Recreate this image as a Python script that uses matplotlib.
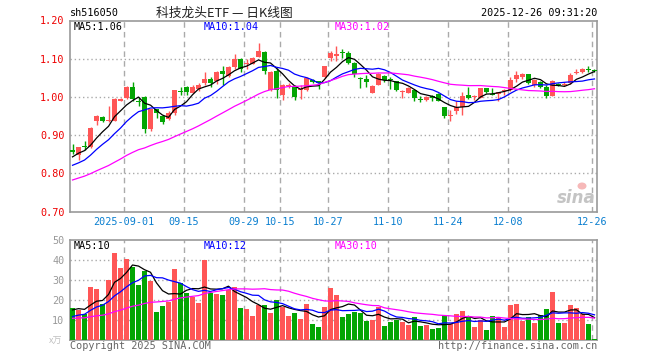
import matplotlib
matplotlib.use('Agg')
import matplotlib.pyplot as plt
from matplotlib.patches import Ellipse
import numpy as np
import pandas as pd

code = 'sh516050'
title = '科技龙头ETF — 日K线图'
stamp = '2025-12-26 09:31:20'

# trading days, national day holiday removed
days = pd.bdate_range('2025-08-19', '2025-12-26')
days = days[(days < '2025-10-01') | (days > '2025-10-08')]

opens = [0.862, 0.847, 0.871, 0.868, 0.937, 0.948, 0.937, 0.937, 0.990, 0.997,
         1.027, 0.990, 1.000, 0.915, 0.968, 0.950, 0.941, 0.957, 1.015, 1.026,
         1.010, 1.020, 1.037, 1.047, 1.041, 1.069, 1.054, 1.079, 1.100, 1.085,
         1.087, 1.105, 1.118, 1.018, 1.069, 1.006, 1.028, 1.028, 1.017, 1.019,
         1.043, 1.041, 1.052, 1.103, 1.107, 1.117, 1.116, 1.089, 1.050, 1.047,
         1.011, 1.032, 1.054, 1.047, 1.041, 1.012, 1.011, 1.019, 0.995, 0.991,
         1.003, 1.008, 0.973, 0.951, 0.962, 0.974, 1.005, 1.000, 0.998, 1.023,
         1.008, 1.007, 1.015, 1.018, 1.047, 1.051, 1.060, 1.032, 1.040, 1.027,
         1.003, 1.034, 1.031, 1.036, 1.062, 1.064, 1.073, 1.070]
highs = [0.876, 0.869, 0.884, 0.920, 0.953, 0.949, 0.976, 0.996, 0.996, 1.029,
         1.040, 1.001, 1.002, 0.969, 0.969, 0.953, 0.963, 1.019, 1.026, 1.028,
         1.030, 1.036, 1.066, 1.052, 1.068, 1.081, 1.080, 1.113, 1.101, 1.098,
         1.105, 1.142, 1.119, 1.067, 1.076, 1.034, 1.036, 1.031, 1.031, 1.052,
         1.047, 1.042, 1.082, 1.121, 1.133, 1.126, 1.120, 1.092, 1.052, 1.057,
         1.030, 1.062, 1.057, 1.052, 1.042, 1.019, 1.026, 1.021, 1.003, 1.002,
         1.006, 1.011, 0.974, 0.967, 0.988, 1.014, 1.027, 1.005, 1.024, 1.024,
         1.023, 1.014, 1.020, 1.053, 1.068, 1.062, 1.061, 1.048, 1.042, 1.032,
         1.043, 1.037, 1.038, 1.062, 1.072, 1.075, 1.080, 1.072]
lows = [0.850, 0.836, 0.861, 0.866, 0.926, 0.933, 0.935, 0.936, 0.988, 0.995,
        0.988, 0.975, 0.906, 0.911, 0.946, 0.930, 0.939, 0.952, 1.005, 1.005,
        1.009, 1.015, 1.032, 1.026, 1.034, 1.032, 1.052, 1.072, 1.066, 1.072,
        1.085, 1.104, 1.059, 1.015, 0.997, 0.993, 1.024, 0.993, 0.995, 1.016,
        1.036, 1.020, 1.050, 1.094, 1.094, 1.101, 1.085, 1.052, 1.024, 1.027,
        1.010, 1.031, 1.040, 1.021, 1.015, 0.996, 1.009, 0.990, 0.986, 0.989,
        0.989, 0.988, 0.946, 0.936, 0.955, 0.953, 0.994, 0.992, 0.997, 1.010,
        1.005, 0.990, 1.005, 1.016, 1.039, 1.046, 1.035, 1.026, 1.022, 0.998,
        1.002, 1.028, 1.028, 1.034, 1.060, 1.062, 1.065, 1.066]
closes = [0.856, 0.868, 0.869, 0.918, 0.950, 0.938, 0.940, 0.995, 0.994, 1.027,
          0.995, 0.987, 0.915, 0.968, 0.957, 0.935, 0.957, 1.018, 1.013, 1.014,
          1.026, 1.032, 1.046, 1.037, 1.066, 1.061, 1.078, 1.100, 1.074, 1.089,
          1.101, 1.120, 1.069, 1.065, 1.019, 1.030, 1.032, 0.999, 1.020, 1.050,
          1.040, 1.037, 1.081, 1.116, 1.113, 1.115, 1.089, 1.059, 1.048, 1.039,
          1.028, 1.059, 1.043, 1.045, 1.017, 1.014, 1.024, 0.996, 0.992, 0.999,
          0.996, 0.990, 0.949, 0.953, 0.974, 1.003, 0.997, 1.002, 1.023, 1.012,
          1.006, 1.012, 1.019, 1.045, 1.058, 1.060, 1.036, 1.045, 1.027, 1.003,
          1.042, 1.032, 1.034, 1.058, 1.065, 1.072, 1.070, 1.067]
volumes = [16.2, 15.2, 13.2, 26.7, 25.7, 18.0, 30.2, 43.7, 36.2, 40.7,
           36.7, 27.5, 34.7, 29.7, 14.2, 17.2, 19.2, 35.7, 28.5, 23.7,
           21.5, 18.7, 40.0, 23.7, 23.2, 22.5, 25.2, 26.7, 16.2, 15.7,
           12.2, 17.7, 17.7, 13.7, 20.2, 16.7, 12.2, 13.7, 10.7, 18.2,
           8.2, 6.7, 16.7, 26.2, 22.5, 11.5, 13.0, 14.2, 13.5, 9.7,
           10.2, 16.7, 7.2, 9.0, 10.2, 9.0, 7.5, 11.5, 7.2, 7.5,
           5.7, 6.2, 12.0, 8.2, 13.0, 14.7, 11.3, 6.7, 10.0, 5.2,
           12.0, 11.2, 6.7, 17.7, 18.2, 9.7, 11.5, 8.7, 12.5, 15.7,
           24.2, 8.7, 8.7, 17.7, 16.2, 13.2, 8.2, 0.7]

# closes / volumes before the window, estimated from where the MA lines start
prev_closes = [0.715, 0.720, 0.722, 0.728, 0.730, 0.733, 0.737, 0.740, 0.745,
               0.760, 0.772, 0.780, 0.776, 0.785, 0.790, 0.795, 0.800, 0.805,
               0.812, 0.820, 0.805, 0.795, 0.790, 0.800, 0.805, 0.820, 0.835,
               0.848, 0.856]
prev_volumes = [9, 11, 10, 12, 9, 10, 11, 13, 10, 9, 11, 10, 12, 9, 10, 11, 10,
                9, 11, 10, 8, 9, 7, 9, 9, 12, 15, 16, 16]

tick_dates = ['2025-09-01', '2025-09-15', '2025-09-29', '2025-10-15', '2025-10-27',
              '2025-11-10', '2025-11-24', '2025-12-08', '2025-12-26']
price_ma_text = ['MA5:1.06', 'MA10:1.04', 'MA30:1.02']
vol_ma_text = ['MA5:10', 'MA10:12', 'MA30:10']

UP = '#ff5656'
DOWN = '#03a503'
MA_COLORS = ['black', '#0000ff', '#ff00ff']
GRID = '#aaaaaa'
MONO = 'DejaVu Sans Mono'
FS = 7.3

W, H = 660, 360
fig = plt.figure(figsize=(W / 100, H / 100), dpi=100)


def box(l, t, r, b):
    return [l / W, 1 - b / H, (r - l) / W, (b - t) / H]


ax = fig.add_axes(box(70, 20.5, 597, 211.5))
axv = fig.add_axes(box(70, 240, 597, 340))

o = np.array(opens); c = np.array(closes)
h = np.array(highs); lo = np.array(lows)
v = np.array(volumes)
x = np.arange(len(c))
up = c >= o
cols = np.where(up, UP, DOWN)

n_prev = len(prev_closes)
all_c = pd.Series(prev_closes + closes)
all_v = pd.Series(prev_volumes + volumes)

# candles
ax.vlines(x, lo, h, colors=cols, lw=1.0, zorder=3)
body = np.maximum(np.abs(c - o), 0.0025)
ax.bar(x, body, bottom=np.minimum(o, c), width=0.78, color=cols, lw=0, zorder=3)

for k, col in zip([5, 10, 30], MA_COLORS):
    ax.plot(x, all_c.rolling(k).mean().values[n_prev:], color=col, lw=0.9, zorder=4)
    axv.plot(x, all_v.rolling(k).mean().values[n_prev:], color=col, lw=0.9, zorder=4)

axv.bar(x, v, width=0.78, color=cols, lw=0, zorder=3)

# axes styling
tick_idx = [days.get_loc(pd.Timestamp(d)) - 0.4 for d in tick_dates]
tick_lab = [tick_dates[0]] + [d[5:] for d in tick_dates[1:]]
for a in (ax, axv):
    a.set_xlim(-0.42, len(c) - 0.58)
    for s in a.spines.values():
        s.set_color('#999999')
        s.set_linewidth(1.2)
    for t in tick_idx:
        a.axvline(t, color=GRID, lw=1, ls=(0, (4, 3)), zorder=1)
    a.tick_params(length=0)

ax.set_ylim(0.70, 1.20)
ax.set_yticks([0.70, 0.80, 0.90, 1.00, 1.10, 1.20])
ax.set_yticklabels(['%.2f' % t for t in ax.get_yticks()], color='#ee0000',
                   family=MONO, fontsize=FS)
for g in [0.80, 0.90, 1.00, 1.10]:
    ax.axhline(g, color=GRID, lw=1, ls=(0, (1, 2)), zorder=1)
ax.set_xticks(tick_idx)
ax.set_xticklabels(tick_lab, color='#0a7fd0', family=MONO, fontsize=FS)
ax.tick_params(axis='x', pad=4)
ax.tick_params(axis='y', pad=4)

axv.set_ylim(0, 50)
axv.set_yticks([10, 20, 30, 40, 50])
axv.set_yticklabels(['10', '20', '30', '40', '50'], color='#999999',
                    family=MONO, fontsize=FS)
axv.tick_params(axis='y', pad=4)
axv.set_xticks([])
for g in [10, 20, 30, 40]:
    axv.axhline(g, color=GRID, lw=1, ls=(0, (1, 2)), zorder=1)


def ptext(px, py, s, **kw):
    kw.setdefault('family', MONO)
    kw.setdefault('fontsize', FS)
    fig.text(px / W, 1 - py / H, s, va='center', **kw)


# header
ptext(70, 13, code, color='black')
ptext(224, 13, title, ha='center', family=['Noto Sans CJK SC', 'DejaVu Sans'],
      fontsize=9.2, color='#222222')
ptext(597, 13, stamp, ha='right', color='black')

for px, s, col in zip([74, 204, 335], price_ma_text, MA_COLORS):
    ptext(px, 27, s, color=col)
for px, s, col in zip([74, 204, 335], vol_ma_text, MA_COLORS):
    ptext(px, 246, s, color=col)

# footer
ptext(49, 341, 'x万', color='#c0c0c0', family=['Noto Sans CJK SC', 'DejaVu Sans'],
      fontsize=6.5)
ptext(70, 346, 'Copyright 2025 SINA.COM', color='#666666')
ptext(597, 346, 'http://finance.sina.com.cn', ha='right', color='#666666')

# sina watermark
ptext(596, 198, 'sina', ha='right', color='#c4c4c4', family='DejaVu Sans',
      fontsize=12, fontweight='bold', style='italic')
fig.add_artist(Ellipse((582 / W, 1 - 186 / H), 9 / W, 7 / H,
                       transform=fig.transFigure, color='#f6b8b8', lw=0))

fig.savefig('out.png', dpi=100)
